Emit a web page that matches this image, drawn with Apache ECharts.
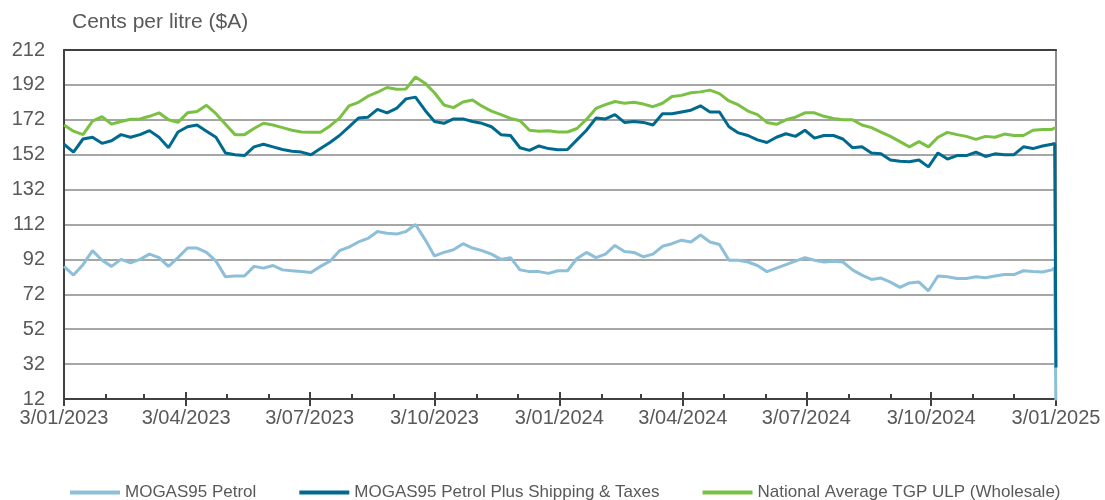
<!DOCTYPE html>
<html><head><meta charset="utf-8">
<script src="https://cdn.jsdelivr.net/npm/echarts@6/dist/echarts.min.js"></script>
<style>html,body{margin:0;padding:0;background:#fff}#c{width:1105px;height:500px}</style>
</head><body><div id="c"></div>
<script>
// Sampling dates (weekly) + last two days of the record
const dates = [
'2023-01-03','2023-01-10','2023-01-17','2023-01-24','2023-01-31','2023-02-07','2023-02-14','2023-02-21','2023-02-28',
'2023-03-07','2023-03-14','2023-03-21','2023-03-28','2023-04-04','2023-04-11','2023-04-18','2023-04-25',
'2023-05-02','2023-05-09','2023-05-16','2023-05-23','2023-05-30','2023-06-06','2023-06-13','2023-06-20','2023-06-27',
'2023-07-04','2023-07-11','2023-07-18','2023-07-25','2023-08-01','2023-08-08','2023-08-15','2023-08-22','2023-08-29',
'2023-09-05','2023-09-12','2023-09-19','2023-09-26','2023-10-03','2023-10-10','2023-10-17','2023-10-24','2023-10-31',
'2023-11-07','2023-11-14','2023-11-21','2023-11-28','2023-12-05','2023-12-12','2023-12-19','2023-12-26',
'2024-01-02','2024-01-09','2024-01-16','2024-01-23','2024-01-30','2024-02-06','2024-02-13','2024-02-20','2024-02-27',
'2024-03-05','2024-03-12','2024-03-19','2024-03-26','2024-04-02','2024-04-09','2024-04-16','2024-04-23','2024-04-30',
'2024-05-07','2024-05-14','2024-05-21','2024-05-28','2024-06-04','2024-06-11','2024-06-18','2024-06-25',
'2024-07-02','2024-07-09','2024-07-16','2024-07-23','2024-07-30','2024-08-06','2024-08-13','2024-08-20','2024-08-27',
'2024-09-03','2024-09-10','2024-09-17','2024-09-24','2024-10-01','2024-10-08','2024-10-15','2024-10-22','2024-10-29',
'2024-11-05','2024-11-12','2024-11-19','2024-11-26','2024-12-03','2024-12-10','2024-12-17','2024-12-24','2024-12-31',
'2025-01-02','2025-01-03'
];
const mogas95 = [
88,83,89,97,91.5,88,92,90,92,95,93,88,93,98.5,98.5,96,91,82,82.5,82.5,88,87,88.5,86,85.5,85,84.5,88,91,97,99,102,104,108,107,
106.5,108,112,103.5,94,96,97.5,101,98.5,97,95,92,93,86,85,85,84,85.5,85.5,92.5,96,93,95,100,96.5,96,93.5,95,99.5,101,103,102,106,102,
100.5,91.5,91.5,90.5,88.5,85,87,89,91,93,91.5,90.5,91,90.5,86,83,80.5,81.3,79,76,78.5,79,74,82.5,82,81,81,82,81.5,82.5,83.3,83.3,85.5,85,84.8,86,
87,0
];
const mogas95Plus = [
158,153.5,161,162,158.5,160,163.5,162,163.5,165.8,162,156,165,168,169,165.5,162,153,152,151.5,156.5,158,156.5,155,154,153.5,152,155.5,159,163,168,173,173.5,178,176,
178.5,184,185,177.5,171,170,172.5,172.5,171,170,168,163.5,163,156,154.5,157,155.5,154.8,155,160.5,166,173,172.5,175,170.5,171,170.5,169,175.5,175.5,176.5,177.5,180,176.5,
176.5,168,164.5,163,160.5,159,162,164,162.5,166,161.5,163,163,161,156,156.5,153,152.5,149,148.2,148,149,145,153,149.5,151.5,151.5,153.5,151,152.5,152,152,156.5,155.5,157,158,
158.5,30
];
const tgpUlp = [
169,165.5,163.5,171.3,173.8,169.5,171,172.3,172.5,174,176,172,170.5,176,176.8,180.3,175.5,169.5,163.5,163.5,167,170,169,167.5,166,165,164.8,164.8,168.5,173,180,182,185.5,187.8,190.5,
189.5,189.7,196.5,193,187.5,180.5,179,182.2,183.3,179.8,177,175,172.8,171.5,166,165.5,165.7,165,165,167,172.2,178.5,180.7,182.5,181.5,182,181,179.5,181.5,185.3,186,187.5,188,189,
187,182.8,180.5,177,175,170.5,169.4,172,173.5,176,176,174,172.8,172,172,169,167.5,165,162.5,159.5,156.5,159.5,156.5,162,164.8,163.5,162.5,160.8,162.5,162,163.8,163,163,166,166.5,166.5,
167.3,167.3
];
const seriesNames = ['MOGAS95 Petrol','MOGAS95 Petrol Plus Shipping & Taxes','National Average TGP ULP (Wholesale)'];
const quarterDates = ['2023-01-03','2023-04-03','2023-07-03','2023-10-03','2024-01-03','2024-04-03','2024-07-03','2024-10-03','2025-01-03'];
const monthDates = ['2023-01-03','2023-02-03','2023-03-03','2023-04-03','2023-05-03','2023-06-03','2023-07-03','2023-08-03','2023-09-03',
'2023-10-03','2023-11-03','2023-12-03','2024-01-03','2024-02-03','2024-03-03','2024-04-03','2024-05-03','2024-06-03','2024-07-03',
'2024-08-03','2024-09-03','2024-10-03','2024-11-03','2024-12-03','2025-01-03'];
const yMin = 12, yMax = 212, yStep = 20;
const titleText = 'Cents per litre ($A)';

function ts(s){const p=s.split('-').map(Number);return new Date(p[0],p[1]-1,p[2]).getTime();}
const xMin = ts(quarterDates[0]), xMax = ts(quarterDates[quarterDates.length-1]);
const qTs = quarterDates.map(ts), mTs = monthDates.map(ts);
const FONT = "'Liberation Sans', Arial, sans-serif";
const dark = '#404040', grey = '#595959';
function fmt(v){const d=new Date(v);return d.getDate()+'/'+String(d.getMonth()+1).padStart(2,'0')+'/'+d.getFullYear();}
function pairs(arr){return dates.map((d,i)=>[ts(d),arr[i]]);}
const colors = ['#8DBFD9','#006A8E','#7AC143'];

const chart = echarts.init(document.getElementById('c'), null, {renderer:'canvas'});
const baseX = {type:'value', min:xMin, max:xMax, gridIndex:0, splitLine:{show:false}};
chart.setOption({
  animation:false,
  textStyle:{fontFamily:FONT},
  title:{text:titleText, left:72, top:12, padding:0, textStyle:{fontSize:21, fontWeight:'normal', color:grey, fontFamily:FONT}},
  grid:{left:64, right:49, top:50, bottom:101, containLabel:false},
  legend:{data:seriesNames, left:70, top:484, padding:0, icon:'rect', itemWidth:50, itemHeight:4, itemGap:43,
    textStyle:{fontSize:17, color:grey, fontFamily:FONT}},
  xAxis:[
    Object.assign({}, baseX, {position:'bottom', axisLine:{show:true, lineStyle:{color:dark, width:2}},
      axisTick:{show:true, customValues:qTs, length:7, inside:false, lineStyle:{color:dark, width:2}},
      axisLabel:{show:true, customValues:qTs, formatter:fmt, fontSize:20, color:grey, margin:9, fontFamily:FONT}}),
    Object.assign({}, baseX, {position:'bottom', axisLine:{show:false},
      axisTick:{show:true, customValues:mTs, length:5, inside:true, lineStyle:{color:dark, width:2}},
      axisLabel:{show:false}}),
    Object.assign({}, baseX, {position:'bottom', axisLine:{show:false},
      axisTick:{show:true, customValues:qTs, length:7, inside:true, lineStyle:{color:dark, width:2}},
      axisLabel:{show:false}}),
    Object.assign({}, baseX, {position:'top', axisLine:{show:true, lineStyle:{color:dark, width:2}},
      axisTick:{show:false}, axisLabel:{show:false}})
  ],
  yAxis:[
    {type:'value', min:yMin, max:yMax, interval:yStep, position:'left',
      axisLine:{show:true, lineStyle:{color:dark, width:2}}, axisTick:{show:false},
      axisLabel:{fontSize:20, color:grey, margin:19, fontFamily:FONT},
      splitLine:{show:true, lineStyle:{color:'#A6A6A6', width:2}}},
    {type:'value', min:yMin, max:yMax, interval:yStep, position:'right',
      axisLine:{show:true, lineStyle:{color:'#8C8C8C', width:2}}, axisTick:{show:false},
      axisLabel:{show:false}, splitLine:{show:false}}
  ],
  series:[
    {name:seriesNames[0], type:'line', data:pairs(mogas95), showSymbol:false, symbol:'none', clip:true,
      lineStyle:{color:colors[0], width:3}, itemStyle:{color:colors[0]}},
    {name:seriesNames[1], type:'line', data:pairs(mogas95Plus), showSymbol:false, symbol:'none', clip:true,
      lineStyle:{color:colors[1], width:3}, itemStyle:{color:colors[1]}},
    {name:seriesNames[2], type:'line', data:pairs(tgpUlp), showSymbol:false, symbol:'none', clip:true,
      lineStyle:{color:colors[2], width:3}, itemStyle:{color:colors[2]}}
  ]
});
</script></body></html>
